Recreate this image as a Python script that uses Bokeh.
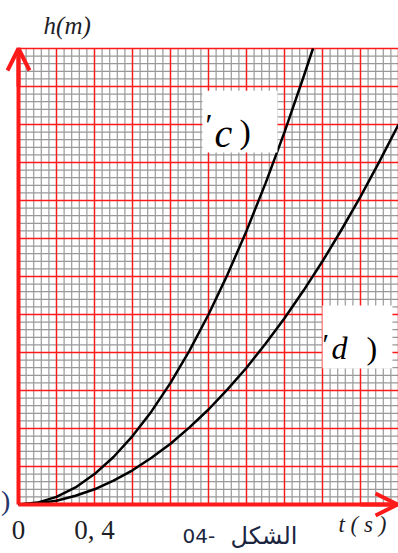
import numpy as np
from bokeh.plotting import figure
from bokeh.models import (FixedTicker, Arrow, OpenHead, Label, BoxAnnotation,
                          Range1d, LinearAxis)
from bokeh.embed import file_html
from bokeh.resources import INLINE

# Height h (m) against time t (s) for the two falls (c) and (d)
t_c = [0, 0.1, 0.2, 0.3, 0.4, 0.5, 0.6, 0.7, 0.8, 0.9, 1.0, 1.1, 1.2, 1.3, 1.4, 1.5, 1.55]
h_c = [0, 0.05, 0.2, 0.45, 0.8, 1.25, 1.8, 2.45, 3.2, 4.05, 5.0, 6.05, 7.2, 8.45, 9.8, 11.25, 12.0]

t_d = [0, 0.1, 0.2, 0.3, 0.4, 0.5, 0.6, 0.7, 0.8, 0.9, 1.0,
       1.1, 1.2, 1.3, 1.4, 1.5, 1.6, 1.7, 1.8, 1.9, 2.0]
h_d = [0, 0.03, 0.1, 0.23, 0.4, 0.63, 0.9, 1.23, 1.6, 2.03, 2.5,
       3.03, 3.6, 4.23, 4.9, 5.63, 6.4, 7.23, 8.1, 9.03, 10.0]

tick_values = [0, 0.4]
tick_labels = {0: "0", 0.4: "0, 4"}

T_MAX, H_MAX = 2.0, 12.0
RED = "#ff1a1a"
SERIF = "Liberation Serif"
INK = "#1e1e28"

# the plotting area fills the page; the graph paper occupies [0, 2] x [0, 12]
# (190 px per second, 38 px per metre)
p = figure(width=398, height=553,
           x_range=Range1d(-18 / 190, T_MAX), y_range=Range1d(-49 / 38, 504 / 38),
           output_backend="svg", toolbar_location=None,
           x_axis_location=None, y_axis_location=None, min_border=0)
p.outline_line_color = None
p.background_fill_color = "white"
p.border_fill_color = "white"
p.grid.visible = False

# graph paper: grey every 0.04 s / 0.2 m, red every 0.2 s / 1 m
x_minor = np.round(np.arange(0, T_MAX + 1e-9, 0.04), 3)
y_minor = np.round(np.arange(0, H_MAX + 1e-9, 0.2), 3)
x_major = np.round(np.arange(0, T_MAX + 1e-9, 0.2), 3)
y_major = np.arange(0, H_MAX + 1e-9, 1.0)

for xs, ys, color, width in ((x_minor, y_minor, "#999999", 1.2),
                             (x_major, y_major, RED, 1.4)):
    p.segment(x0=xs, y0=0, x1=xs, y1=H_MAX, line_color=color, line_width=width)
    p.segment(x0=0, y0=ys, x1=T_MAX, y1=ys, line_color=color, line_width=width)

# axes drawn through the origin
xaxis = LinearAxis(fixed_location=0, bounds=(0, T_MAX),
                   ticker=FixedTicker(ticks=tick_values),
                   major_label_overrides=tick_labels,
                   major_label_text_font=SERIF, major_label_text_font_size="27px",
                   major_label_text_color=INK, major_label_standoff=4)
yaxis = LinearAxis(fixed_location=0, bounds=(0, H_MAX), ticker=FixedTicker(ticks=[]))
for ax in (xaxis, yaxis):
    ax.axis_line_color = RED
    ax.axis_line_width = 4
    ax.major_tick_line_color = None
    ax.minor_tick_line_color = None
p.add_layout(xaxis, "below")
p.add_layout(yaxis, "left")

# the two curves
p.line(t_c, h_c, line_color="black", line_width=2.5, line_join="round")
p.line(t_d, h_d, line_color="black", line_width=2.5, line_join="round")

# arrow heads on the axes
p.add_layout(Arrow(end=OpenHead(size=22, line_color=RED, line_width=4),
                   x_start=0, y_start=11, x_end=0, y_end=H_MAX,
                   line_color=RED, line_width=4))
p.add_layout(Arrow(end=OpenHead(size=22, line_color=RED, line_width=4),
                   x_start=1.8, y_start=0, x_end=1.995, y_end=0,
                   line_color=RED, line_width=4))

# curve tags on white patches
p.add_layout(BoxAnnotation(left=0.968, right=1.363, bottom=9.26, top=10.89,
                           fill_color="white", fill_alpha=1, line_color=None))
p.add_layout(BoxAnnotation(left=1.6, right=1.968, bottom=3.58, top=5.24,
                           fill_color="white", fill_alpha=1, line_color=None))


def tag(x, y, text, size, style="normal", color="black", font=SERIF):
    p.add_layout(Label(x=x, y=y, text=text, text_font=font, text_font_size=size,
                       text_font_style=style, text_color=color,
                       text_baseline="alphabetic", text_align="left"))


tag(0.984, 10.0, "\u2032", "32px")
tag(1.032, 9.76, "c", "40px", "italic")
tag(1.163, 9.81, ")", "34px")

tag(1.6, 4.23, "\u2032", "30px")
tag(1.647, 4.13, "d", "32px", "italic")
tag(1.832, 4.13, ")", "32px")

# axis names and caption
tag(0.132, 12.6, "h(m)", "25px", "italic", INK)
tag(1.684, -0.53, "t ( s )", "23px", "italic", INK)
tag(0.863, -0.82, "04-", "20px", "normal", "#1b2540", "DejaVu Sans")
tag(1.116, -0.82, "الشكل", "24px", "normal", "#1b2540", "DejaVu Sans")
tag(-0.092, 0.1, ")", "28px", "normal", "#23346b")

open("out.html", "w").write(file_html(p, INLINE))
